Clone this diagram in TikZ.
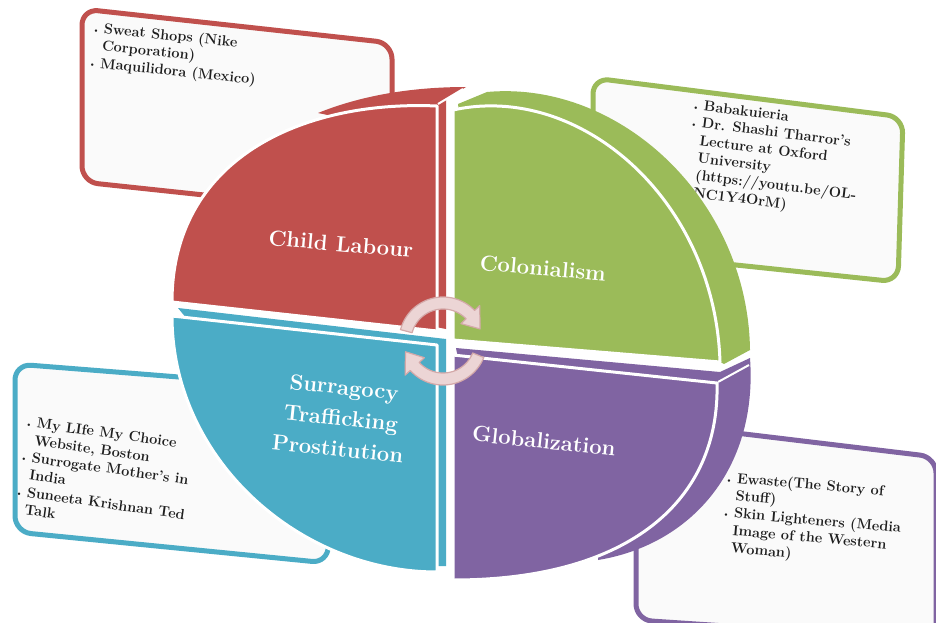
\documentclass[tikz,border=0pt]{standalone}
\usepackage{tikz}
\usepackage{xcolor}

\definecolor{labourred}{HTML}{C0504D}
\definecolor{colonygreen}{HTML}{9BBB59}
\definecolor{globalpurple}{HTML}{8064A2}
\definecolor{traffblue}{HTML}{4BACC6}
\definecolor{notefill}{HTML}{FAFAFA}
\definecolor{notetext}{HTML}{1E1E1E}
\definecolor{cyclefill}{HTML}{ECD5D5}
\definecolor{cycleline}{HTML}{D4A9A9}

% bullet and hanging indent for the note lists
\newcommand{\bulit}{{\footnotesize\textbullet}\hspace*{4pt}}
\newcommand{\hang}{\phantom{\footnotesize\textbullet}\hspace*{4pt}}

\begin{document}
\begin{tikzpicture}[x=1pt, y=-1pt,
  face/.style={fill=#1, draw=white, line width=3pt, line join=round},
  notebox/.style={draw=#1, fill=notefill, line width=5pt, rounded corners=16pt},
  topic/.style={text=white, font=\fontsize{22}{31}\selectfont\bfseries, align=center},
  notes/.style={anchor=north west, inner sep=0pt, align=left, text=notetext, font=\fontsize{14.5}{17.5}\selectfont\bfseries},
  cycarrow/.style={fill=cyclefill, draw=cycleline, line width=1.2pt, line join=round}
]

\useasboundingbox (0,0) rectangle (936,623);
\fill[white] (0,0) rectangle (936,623);

% Note boxes (behind the disc)
\draw[notebox=labourred] (82,9) -- (392,43) -- (392,215) -- (82,182) -- cycle;
\draw[notebox=colonygreen] (593,78) -- (903,117) -- (898,282) -- (593,250) -- cycle;
\draw[notebox=traffblue] (15,364) -- (330,389) -- (328,563) -- (15,532) -- cycle;
\draw[notebox=globalpurple] (636,421) -- (936,457) -- (936,640) -- (636,620) -- cycle;

% Note texts
\node[notes, rotate=-6] (labournotes) at (93,21) {\bulit Sweat Shops (Nike\\
  \hang Corporation)\\
  \bulit Maquilidora (Mexico)};
\node[notes, rotate=-7] (colonynotes) at (693,99) {\bulit Babakuieria\\
  \bulit Dr. Shashi Tharror's\\
  \hang Lecture at Oxford\\
  \hang University\\
  \hang (https://youtu.be/OL-\\
  \hang NC1Y4OrM)};
\node[notes, rotate=-8] (traffnotes) at (26,416) {\bulit My LIfe My Choice\\
  \hang Website, Boston\\
  \bulit Surrogate Mother's in\\
  \hang India\\
  \bulit Suneeta Krishnan Ted\\
  \hang Talk};
\node[notes, rotate=-5] (globalnotes) at (726,471) {\bulit Ewaste(The Story of\\
  \hang Stuff)\\
  \bulit Skin Lighteners (Media\\
  \hang Image of the Western\\
  \hang Woman)};

% Sides of the wedges
\fill[traffblue] (178,308) -- (446,339) -- (446,566) -- (425,566) -- (425,400) -- (200,335) -- cycle;
\fill[labourred] (318,113) .. controls (360,96) and (410,87) .. (466,87) -- (446,99) -- (446,329) -- (400,320) -- (400,130) -- cycle;
\fill[globalpurple] (456,348) -- (720,372) -- (750,358) .. controls (758,470) and (690,545) .. (598,560) -- (600,500) -- (470,420) -- cycle;
\fill[colonygreen] (458,104) -- (487,92) .. controls (620,80) and (748,200) .. (750,350) -- (724,364) -- (600,300) -- (470,200) -- cycle;

% Front faces
\path[face=traffblue] (437,345) -- (437,572) .. controls (300,572) and (172,460) .. (172,316) -- cycle;
\path[face=labourred] (437,331) -- (172,302) .. controls (172,160) and (300,100) .. (437,106) -- cycle;
\path[face=globalpurple] (453,355) -- (717,383) .. controls (720,500) and (630,580) .. (453,580) -- cycle;
\path[face=colonygreen] (453,340) -- (453,110) .. controls (580,82) and (715,200) .. (720,362) -- cycle;

% Edges between front and side
\draw[white, line width=2pt] (438,104) -- (463,89);
\draw[white, line width=2pt] (718,382) -- (749,365);

% Cycle arrows
\path[cycarrow] plot[domain=195:316, samples=40] ({443+44*cos(\x)}, {341+44*sin(\x)})
  -- ({443+51*cos(316)}, {341+51*sin(316)})
  -- ({443+39*cos(342)}, {341+39*sin(342)})
  -- ({443+25*cos(316)}, {341+25*sin(316)})
  -- plot[domain=316:195, samples=40] ({443+32*cos(\x)}, {341+32*sin(\x)}) -- cycle;
\path[cycarrow] plot[domain=22:138, samples=40] ({443+44*cos(\x)}, {341+44*sin(\x)})
  -- ({443+51*cos(138)}, {341+51*sin(138)})
  -- ({443+39*cos(164)}, {341+39*sin(164)})
  -- ({443+25*cos(138)}, {341+25*sin(138)})
  -- plot[domain=138:22, samples=40] ({443+32*cos(\x)}, {341+32*sin(\x)}) -- cycle;

% Topic labels
\node[topic, rotate=-5] (labour) at (341,244) {Child Labour};
\node[topic, rotate=-5] (colony) at (543,268) {Colonialism};
\node[topic, rotate=-6] (traffic) at (341,418) {Surragocy\\Trafficking\\Prostitution};
\node[topic, rotate=-6] (global) at (544,441) {Globalization};

\end{tikzpicture}
\end{document}
